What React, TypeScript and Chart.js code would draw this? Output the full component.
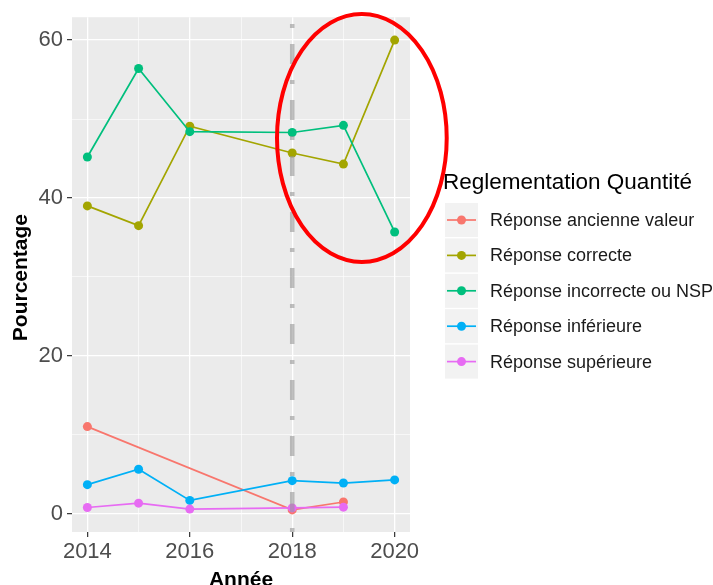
import React, { useEffect, useRef } from "react";
import { Chart, registerables } from "chart.js";

Chart.register(...registerables);

const FONT = "'Liberation Sans', Arial, Helvetica, sans-serif";

// ---- data ----
const years = [2014, 2015, 2016, 2018, 2019, 2020];
const seriesNames = [
  "Réponse ancienne valeur",
  "Réponse correcte",
  "Réponse incorrecte ou NSP",
  "Réponse inférieure",
  "Réponse supérieure",
];
const ancienneValeur = [11.05, null, null, 0.5, 1.5, null];
const correcte = [39.0, 36.5, 49.1, 45.7, 44.3, 60.0];
const incorrecteNSP = [45.2, 56.4, 48.4, 48.3, 49.2, 35.7];
const inferieure = [3.7, 5.65, 1.7, 4.2, 3.9, 4.3];
const superieure = [0.8, 1.35, 0.6, 0.75, 0.85, null];
const seriesValues = [ancienneValeur, correcte, incorrecteNSP, inferieure, superieure];
const seriesColors = ["#F8766D", "#A3A500", "#00BF7D", "#00B0F6", "#E76BF3"];

const xTickValues = [2014, 2015, 2016, 2017, 2018, 2019, 2020];
const xTickLabels = ["2014", "", "2016", "", "2018", "", "2020"];
const yTickValues = [0, 10, 20, 30, 40, 50, 60];
const yTickLabels = ["0", "", "20", "", "40", "", "60"];
const xRange = [2013.7, 2020.3];
const yRange = [-2.3, 62.9];

const legendTitle = "Reglementation Quantité";
const xTitle = "Année";
const yTitle = "Pourcentage";
const refYear = 2018;
const highlight = { year: 2019.36, value: 47.6, rxYears: 1.657, ryValue: 15.7 };

const isMajorX = (v: number) => xTickLabels[xTickValues.indexOf(v)] !== "";
const isMajorY = (v: number) => yTickLabels[yTickValues.indexOf(v)] !== "";

const ggPlugin = {
  id: "ggstyle",
  beforeDraw(chart: any) {
    const { ctx, chartArea: a } = chart;
    ctx.save();
    ctx.fillStyle = "#EBEBEB";
    ctx.fillRect(a.left, a.top, a.right - a.left, a.bottom - a.top);
    ctx.restore();
  },
  afterDatasetsDraw(chart: any) {
    const { ctx, chartArea: a, scales } = chart;
    const x = scales.x.getPixelForValue(refYear);
    ctx.save();
    ctx.strokeStyle = "rgba(150,150,150,0.6)";
    ctx.lineWidth = 4.5;
    ctx.setLineDash([4, 16, 20, 16]);
    ctx.beginPath();
    ctx.moveTo(x, a.bottom);
    ctx.lineTo(x, a.top);
    ctx.stroke();
    ctx.restore();
  },
  afterDraw(chart: any) {
    const { ctx, chartArea: a, scales } = chart;
    // axis titles
    ctx.save();
    ctx.fillStyle = "#000";
    ctx.font = `bold 21px ${FONT}`;
    ctx.textAlign = "center";
    ctx.textBaseline = "alphabetic";
    ctx.fillText(xTitle, (a.left + a.right) / 2, 586);
    ctx.translate(27, (a.top + a.bottom) / 2 + 3);
    ctx.rotate(-Math.PI / 2);
    ctx.fillText(yTitle, 0, 0);
    ctx.restore();

    // legend
    ctx.save();
    ctx.fillStyle = "#000";
    ctx.font = `22.5px ${FONT}`;
    ctx.textAlign = "left";
    ctx.textBaseline = "alphabetic";
    ctx.fillText(legendTitle, 443, 189);
    const lx = 445, keyW = 33, keyH = 34, rowH = 35.4, top0 = 203;
    seriesNames.forEach((name, i) => {
      const y = top0 + i * rowH;
      const cy = y + keyH / 2;
      ctx.fillStyle = "#F2F2F2";
      ctx.fillRect(lx, y, keyW, keyH);
      ctx.strokeStyle = seriesColors[i];
      ctx.lineWidth = 1.7;
      ctx.beginPath();
      ctx.moveTo(lx + 2, cy);
      ctx.lineTo(lx + keyW - 2, cy);
      ctx.stroke();
      ctx.fillStyle = seriesColors[i];
      ctx.beginPath();
      ctx.arc(lx + keyW / 2, cy, 4.5, 0, Math.PI * 2);
      ctx.fill();
      ctx.fillStyle = "#1A1A1A";
      ctx.font = `18px ${FONT}`;
      ctx.textBaseline = "middle";
      ctx.fillText(name, 490, cy + 1);
    });
    ctx.restore();

    // highlight ellipse
    const cx = scales.x.getPixelForValue(highlight.year);
    const cyE = scales.y.getPixelForValue(highlight.value);
    const rx = Math.abs(scales.x.getPixelForValue(highlight.year + highlight.rxYears) - cx);
    const ry = Math.abs(scales.y.getPixelForValue(highlight.value + highlight.ryValue) - cyE);
    ctx.save();
    ctx.strokeStyle = "#FF0000";
    ctx.lineWidth = 4;
    ctx.beginPath();
    ctx.ellipse(cx, cyE, rx, ry, 0, 0, Math.PI * 2);
    ctx.stroke();
    ctx.restore();
  },
};

export default function App() {
  const ref = useRef<HTMLCanvasElement | null>(null);
  useEffect(() => {
    document.body.style.margin = "0";
    const canvas = ref.current;
    if (!canvas) return;
    const chart = new Chart(canvas, {
      type: "line",
      data: {
        datasets: seriesNames.map((name, i) => ({
          label: name,
          data: years.map((x, j) => ({ x, y: seriesValues[i][j] })),
          borderColor: seriesColors[i],
          backgroundColor: seriesColors[i],
          borderWidth: 1.7,
          pointRadius: 4.5,
          pointBorderWidth: 0,
          pointHoverRadius: 4.5,
          spanGaps: true,
          tension: 0,
          order: seriesNames.length - i,
          clip: false as any,
        })),
      },
      options: {
        animation: false,
        responsive: true,
        maintainAspectRatio: false,
        events: [],
        layout: { padding: { top: 17, right: 303, left: 0, bottom: 0 } },
        plugins: { legend: { display: false }, tooltip: { enabled: false } },
        scales: {
          x: {
            type: "linear",
            min: xRange[0],
            max: xRange[1],
            afterBuildTicks: (s: any) => {
              s.ticks = xTickValues.map((v) => ({ value: v }));
            },
            afterFit: (s: any) => {
              s.height = 53;
            },
            border: { display: false },
            grid: {
              color: "#FFFFFF",
              lineWidth: (c: any) => (isMajorX(c.tick?.value) ? 1.3 : 0.6),
              tickColor: (c: any) => (isMajorX(c.tick?.value) ? "#333333" : "rgba(0,0,0,0)"),
              tickLength: 5,
              tickWidth: 1.2,
            },
            ticks: {
              autoSkip: false,
              maxRotation: 0,
              padding: 2,
              color: "#4D4D4D",
              font: { family: FONT, size: 22 },
              callback: (v: any) => xTickLabels[xTickValues.indexOf(Number(v))] ?? "",
            },
          },
          y: {
            type: "linear",
            min: yRange[0],
            max: yRange[1],
            afterBuildTicks: (s: any) => {
              s.ticks = yTickValues.map((v) => ({ value: v }));
            },
            afterFit: (s: any) => {
              s.width = 72;
            },
            border: { display: false },
            grid: {
              color: "#FFFFFF",
              lineWidth: (c: any) => (isMajorY(c.tick?.value) ? 1.3 : 0.6),
              tickColor: (c: any) => (isMajorY(c.tick?.value) ? "#333333" : "rgba(0,0,0,0)"),
              tickLength: 5,
              tickWidth: 1.2,
            },
            ticks: {
              autoSkip: false,
              padding: 4,
              color: "#4D4D4D",
              font: { family: FONT, size: 22 },
              callback: (v: any) => yTickLabels[yTickValues.indexOf(Number(v))] ?? "",
            },
          },
        },
      },
      plugins: [ggPlugin],
    });
    return () => chart.destroy();
  }, []);
  return (
    <div style={{ width: 713, height: 585, position: "relative", background: "#FFFFFF" }}>
      <canvas ref={ref} />
    </div>
  );
}
